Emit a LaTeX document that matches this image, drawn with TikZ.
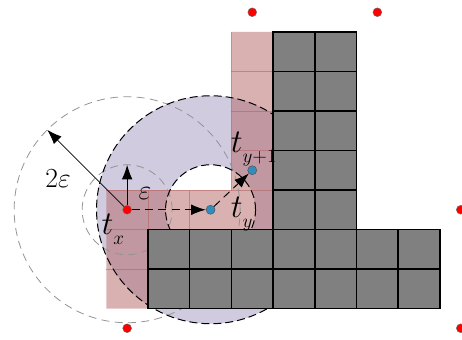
\documentclass[tikz,border=0pt]{standalone}
\usepackage{amsmath,amssymb}
\usepackage{tikz}
\usetikzlibrary{arrows.meta,calc}

\definecolor{ringpurple}{RGB}{150,140,185}
\definecolor{cellpink}{RGB}{180,100,100}
\definecolor{dotblue}{RGB}{50,140,190}

\newcommand{\tlab}[1]{{\fontsize{27}{27}\selectfont$t$}\raisebox{-7.5pt}{\fontsize{15}{15}\selectfont$#1$}}
\newcommand{\epslab}[1]{{\fontsize{21}{21}\selectfont$#1$}}

\begin{document}
\begin{tikzpicture}[
    x=31.275pt, y=-29.625pt,
    cell/.style={fill=gray, draw=black, line width=1.2pt},
    reddot/.style={circle, fill=red, draw=black!60, line width=0.3pt, inner sep=0pt, minimum size=6.6pt},
    bluedot/.style={circle, fill=dotblue, draw=black!70, line width=0.3pt, inner sep=0pt, minimum size=6.8pt},
    tyring/.style={black, dash pattern=on 6pt off 3pt, line width=0.75pt},
    txring/.style={gray!85, dash pattern=on 6pt off 4pt, line width=0.6pt},
    arrowed/.style={-{Latex[length=11pt,width=8pt]}, line width=0.7pt},
    tlabel/.style={anchor=base west, inner sep=0pt}
]
    \useasboundingbox (-3.549,-0.810) rectangle (7.530,7.797);

    \coordinate (Px) at (-0.5,4.5);
    \coordinate (Py) at (1.5,4.5);
    \coordinate (Pyy) at (2.5,3.5);

    % ring between eps and 2eps round t_y
    \fill[ringpurple, fill opacity=0.45, even odd rule] (Py) circle (85.5pt) (Py) circle (33.75pt);

    % visited cells
    \fill[cellpink, fill opacity=0.5] (-1,4) -- (2,4) -- (2,0) -- (3,0) -- (3,5) -- (0,5) -- (0,7) -- (-1,7) -- cycle;
    \draw[cellpink, opacity=0.6, line width=0.4pt] (-1,4) -- (3,4) (2,0) -- (2,4)
        (0,4) -- (0,5) (1,4) -- (1,5) (-1,5) -- (0,5) (-1,6) -- (0,6);
    \foreach \j in {1,2,3}
        \draw[cellpink, opacity=0.6, line width=0.4pt] (2,\j) -- (3,\j);

    \draw[txring] (Px) circle (33.75pt) (Px) circle (84.75pt);
    \draw[tyring] (Py) circle (33.75pt) (Py) circle (85.5pt);

    % obstacles
    \foreach \i in {0,...,6}
        \foreach \j in {5,6}
            \draw[cell] (\i,\j) rectangle ++(1,1);
    \foreach \i in {3,4}
        \foreach \j in {0,...,4}
            \draw[cell] (\i,\j) rectangle ++(1,1);

    \foreach \p [count=\k] in {(2.5,-0.5),(5.5,-0.5),(7.5,4.5),(7.5,7.5),(-0.5,7.5)}
        \node[reddot] (r\k) at \p {};

    \node[reddot] (tx) at (Px) {};
    \node[bluedot] (ty) at (Py) {};
    \node[bluedot] (tyy) at (Pyy) {};

    \coordinate (epsTip) at ($(Px)+(90:33.75pt)$);
    \coordinate (twoEpsTip) at ($(Px)+(135:84.75pt)$);

    \draw[arrowed] (tx) -- (epsTip);
    \draw[arrowed, line width=0.6pt] (tx) -- (twoEpsTip);
    \draw[arrowed, dash pattern=on 6pt off 4pt] (tx) -- (ty);
    \draw[arrowed, dash pattern=on 6pt off 4pt] (ty) -- (tyy);

    \node[tlabel] (lx) at (-1.12,5.139) {\tlab{x}};
    \node[tlabel] (ly) at (1.98,4.684) {\tlab{y}};
    \node[tlabel] (lyy) at (1.98,3.063) {\tlab{y{+}1}};
    \node (leps) at (-0.07,4.08) {\epslab{\varepsilon}};
    \node (ltwo) at (-2.158,3.722) {\epslab{2\varepsilon}};

\end{tikzpicture}
\end{document}
